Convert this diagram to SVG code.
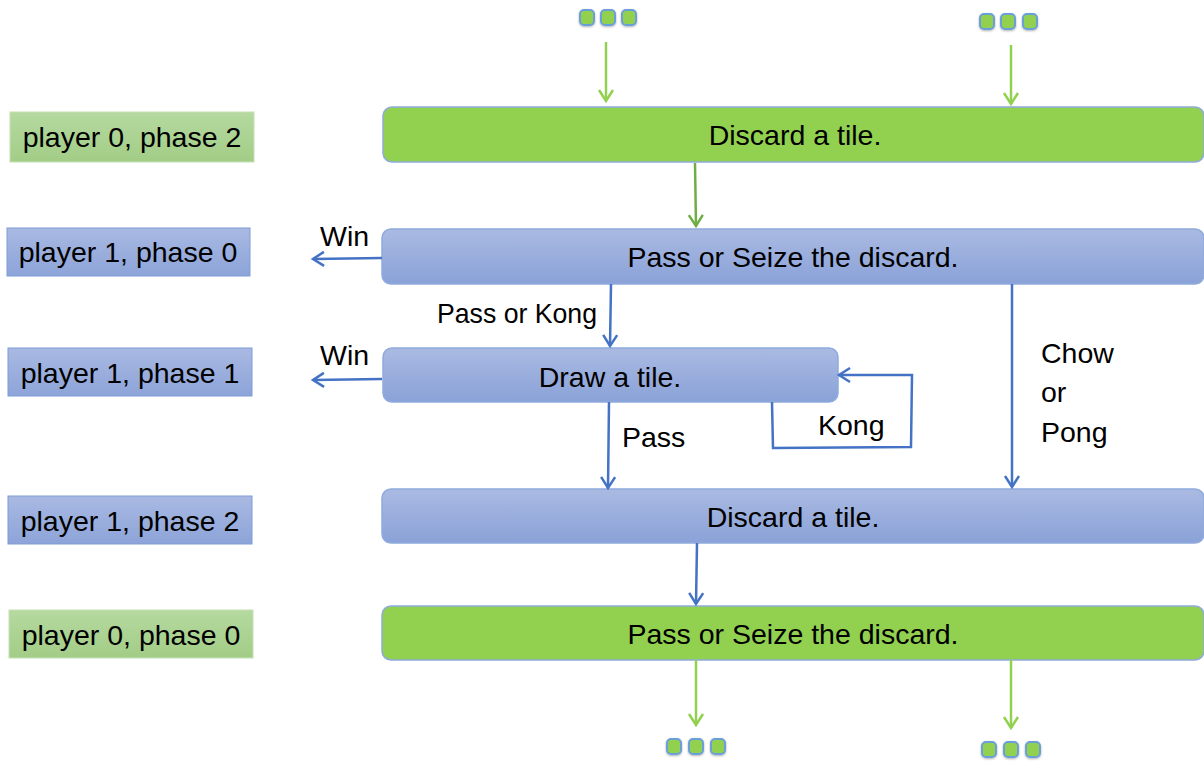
<svg xmlns="http://www.w3.org/2000/svg" width="1204" height="762" viewBox="0 0 1204 762">
<defs>
<linearGradient id="gBlue" x1="0" y1="0" x2="0" y2="1"><stop offset="0" stop-color="#AABAE2"/><stop offset="1" stop-color="#8AA2D8"/></linearGradient>
<linearGradient id="gBlueL" x1="0" y1="0" x2="0" y2="1"><stop offset="0" stop-color="#A9B9E2"/><stop offset="1" stop-color="#8DA4D9"/></linearGradient>
<linearGradient id="gGreenL" x1="0" y1="0" x2="0" y2="1"><stop offset="0" stop-color="#B5D9A0"/><stop offset="1" stop-color="#A2CD86"/></linearGradient>
<marker id="aBlue" markerWidth="18" markerHeight="18" refX="14" refY="9" orient="auto" markerUnits="userSpaceOnUse"><path d="M3,2 L14,9 L3,16" fill="none" stroke="#4472C4" stroke-width="2.5"/></marker>
<marker id="aGreen" markerWidth="18" markerHeight="18" refX="14" refY="9" orient="auto" markerUnits="userSpaceOnUse"><path d="M3,2 L14,9 L3,16" fill="none" stroke="#92D050" stroke-width="2.5"/></marker>
<marker id="aDGreen" markerWidth="18" markerHeight="18" refX="14" refY="9" orient="auto" markerUnits="userSpaceOnUse"><path d="M3,2 L14,9 L3,16" fill="none" stroke="#70AD47" stroke-width="2.5"/></marker>
<filter id="sh" x="-50%" y="-50%" width="200%" height="200%"><feDropShadow dx="0" dy="1" stdDeviation="1" flood-color="#000" flood-opacity="0.3"/></filter>
</defs>
<style>
text{font-family:"Liberation Sans",Arial,sans-serif;font-size:28.5px;fill:#000;}
.c{text-anchor:middle;}
.main{stroke:#8FAADC;stroke-width:1.5;}
.green{fill:#92D050;}
.blue{fill:url(#gBlue);}
.lblB{fill:url(#gBlueL);stroke:#7F9CD6;stroke-width:1;}
.lblG{fill:url(#gGreenL);stroke:#C5E0B4;stroke-width:1;}
.dot{fill:#92D050;stroke:#6A9FD8;stroke-width:2;filter:url(#sh);}
.lb{fill:none;stroke:#4472C4;stroke-width:2.5;}
.lg{fill:none;stroke:#92D050;stroke-width:2.5;}
.ldg{fill:none;stroke:#70AD47;stroke-width:2.5;}
</style>
<g id="dots-top-left"><rect class="dot" x="580" y="10" width="14" height="15" rx="4"/><rect class="dot" x="601" y="10" width="14" height="15" rx="4"/><rect class="dot" x="622" y="10" width="14" height="15" rx="4"/></g>
<g id="dots-top-right"><rect class="dot" x="980" y="14" width="14" height="15" rx="4"/><rect class="dot" x="1001" y="14" width="14" height="15" rx="4"/><rect class="dot" x="1023" y="14" width="14" height="15" rx="4"/></g>
<g id="dots-bottom-left"><rect class="dot" x="667" y="739" width="14" height="15" rx="4"/><rect class="dot" x="689" y="739" width="14" height="15" rx="4"/><rect class="dot" x="711" y="739" width="14" height="15" rx="4"/></g>
<g id="dots-bottom-right"><rect class="dot" x="982" y="742" width="14" height="15" rx="4"/><rect class="dot" x="1004" y="742" width="14" height="15" rx="4"/><rect class="dot" x="1026" y="742" width="14" height="15" rx="4"/></g>

<g id="label-p0-ph2"><rect class="lblG" x="10" y="112" width="244" height="50"/><text class="c" x="132" y="147">player 0, phase 2</text></g>
<g id="label-p1-ph0"><rect class="lblB" x="7" y="228" width="243" height="48"/><text class="c" x="128" y="262">player 1, phase 0</text></g>
<g id="label-p1-ph1"><rect class="lblB" x="8" y="348" width="244" height="48"/><text class="c" x="130" y="383">player 1, phase 1</text></g>
<g id="label-p1-ph2"><rect class="lblB" x="8" y="496" width="244" height="48"/><text class="c" x="130" y="531">player 1, phase 2</text></g>
<g id="label-p0-ph0"><rect class="lblG" x="9" y="610" width="244" height="48"/><text class="c" x="131" y="645">player 0, phase 0</text></g>

<g id="node-discard-p0"><rect class="main green" x="383" y="107" width="821" height="55" rx="9"/><text class="c" x="795" y="145">Discard a tile.</text></g>
<g id="node-seize-p1"><rect class="main blue" x="382" y="229" width="822" height="55" rx="9"/><text class="c" x="793" y="267">Pass or Seize the discard.</text></g>
<g id="node-draw-p1"><rect class="main blue" x="383" y="348" width="455" height="54" rx="9"/><text class="c" x="610" y="387">Draw a tile.</text></g>
<g id="node-discard-p1"><rect class="main blue" x="382" y="489" width="822" height="54" rx="9"/><text class="c" x="793" y="527">Discard a tile.</text></g>
<g id="node-seize-p0"><rect class="main green" x="382" y="606" width="822" height="54" rx="9"/><text class="c" x="793" y="644">Pass or Seize the discard.</text></g>

<g id="connectors">
<line class="lg" x1="606" y1="42" x2="606" y2="101" marker-end="url(#aGreen)"/>
<line class="lg" x1="1011" y1="45" x2="1011" y2="104" marker-end="url(#aGreen)"/>
<line class="ldg" x1="695" y1="163" x2="696" y2="226" marker-end="url(#aDGreen)"/>
<line class="lb" x1="382" y1="258" x2="313" y2="259" marker-end="url(#aBlue)"/>
<text x="320" y="246">Win</text>
<line class="lb" x1="611" y1="284" x2="610" y2="346" marker-end="url(#aBlue)"/>
<text x="437" y="323" textLength="160" lengthAdjust="spacingAndGlyphs">Pass or Kong</text>
<line class="lb" x1="382" y1="379" x2="313" y2="380" marker-end="url(#aBlue)"/>
<text x="320" y="365">Win</text>
<line class="lb" x1="609" y1="402" x2="608" y2="488" marker-end="url(#aBlue)"/>
<text x="622" y="447">Pass</text>
<path class="lb" d="M772,402 L773,448 L911,447 L912,375 L839,375" stroke-width="2" marker-end="url(#aBlue)"/>
<text x="818" y="435">Kong</text>
<line class="lb" x1="1012" y1="284" x2="1012" y2="487" marker-end="url(#aBlue)"/>
<text x="1041" y="363">Chow</text>
<text x="1041" y="402">or</text>
<text x="1041" y="442">Pong</text>
<line class="lb" x1="697" y1="543" x2="696" y2="604" marker-end="url(#aBlue)"/>
<line class="lg" x1="696" y1="660" x2="696" y2="725" marker-end="url(#aGreen)"/>
<line class="lg" x1="1011" y1="660" x2="1011" y2="728" marker-end="url(#aGreen)"/>
</g>
</svg>
